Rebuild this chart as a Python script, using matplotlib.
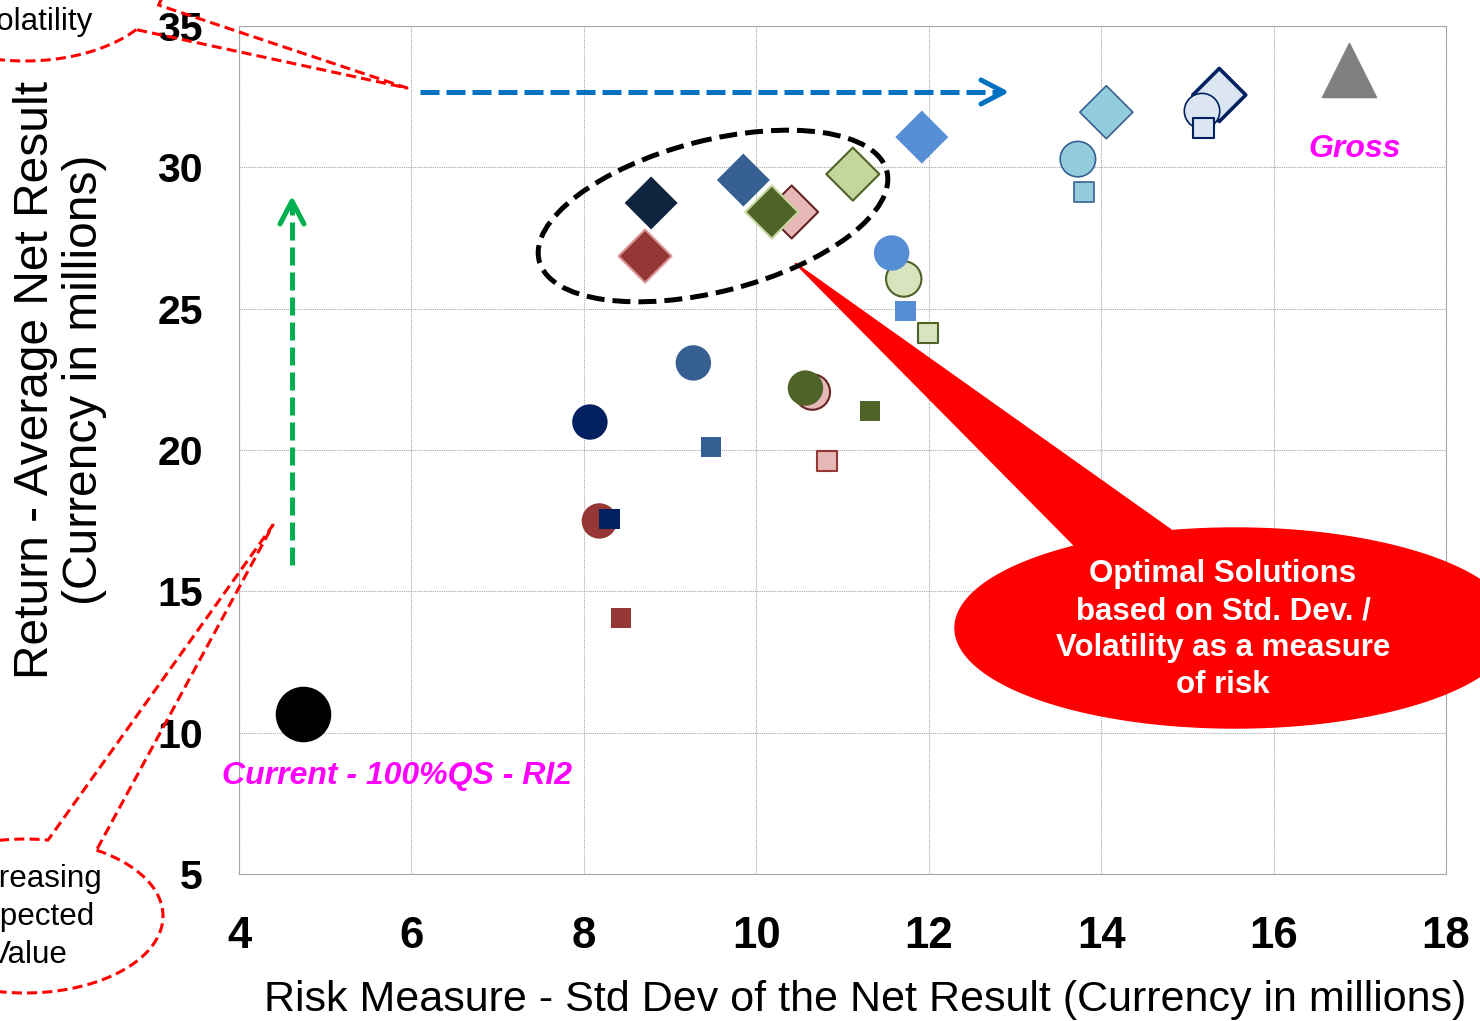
import numpy as np
import matplotlib
matplotlib.use('Agg')
import matplotlib.pyplot as plt
from matplotlib.patches import Ellipse, Polygon

plt.rcParams['font.family'] = ['Liberation Sans', 'DejaVu Sans']

# series order: navy, steel blue, dark red, pink, olive, light green, cornflower, light blue, pale blue
diamond_x = [8.78, 9.85, 8.71, 10.41, 10.18, 11.12, 11.92, 14.06, 15.37]
diamond_y = [28.74, 29.55, 26.86, 28.42, 28.42, 29.76, 31.07, 31.95, 32.56]
circle_x = [8.07, 9.27, 8.18, 10.65, 10.57, 11.71, 11.57, 13.73, 15.17]
circle_y = [20.99, 23.08, 17.49, 22.05, 22.19, 26.05, 26.97, 30.29, 31.99]
square_x = [8.30, 9.475, 8.43, 10.82, 11.32, 11.99, 11.73, 13.80, 15.19]
square_y = [17.56, 20.10, 14.06, 19.61, 21.38, 24.14, 24.92, 29.12, 31.39]

current_x, current_y = 4.74, 10.66
gross_x, gross_y = 16.88, 33.44

x_ticks = [4, 6, 8, 10, 12, 14, 16, 18]
y_ticks = [5, 10, 15, 20, 25, 30, 35]

diamond_face = ['#0F243E', '#376092', '#953735', '#E6B9B8', '#4F6228', '#C3D69B', '#558ED5', '#93CDDD', '#DCE6F2']
diamond_edge = ['#0F243E', '#376092', '#D99694', '#632523', '#C3D69B', '#4F6228', '#558ED5', '#376092', '#002060']
diamond_lw = [0, 0, 1.5, 1.5, 1.5, 1.5, 0, 1.2, 2.6]
circle_face = ['#002060', '#376092', '#953735', '#E6B9B8', '#4F6228', '#D7E4BD', '#558ED5', '#93CDDD', '#DCE6F2']
circle_edge = ['#002060', '#376092', '#953735', '#632523', '#4F6228', '#4F6228', '#558ED5', '#376092', '#002060']
circle_lw = [0, 0, 0, 1.5, 0, 1.5, 0, 1.2, 1.2]
square_face = ['#002060', '#376092', '#953735', '#E6B9B8', '#4F6228', '#D7E4BD', '#558ED5', '#93CDDD', '#DCE6F2']
square_edge = ['#002060', '#376092', '#953735', '#953735', '#4F6228', '#4F6228', '#558ED5', '#376092', '#002060']
square_lw = [0, 0, 0, 1.5, 0, 1.5, 0, 1.2, 1.5]

fig = plt.figure(figsize=(14.8, 10.21), dpi=100)
ax = fig.add_axes([0.16149, 0.14398, 0.81554, 0.83056])

ax.scatter(diamond_x, diamond_y, marker='D', s=27**2, c=diamond_face,
           edgecolors=diamond_edge, linewidths=diamond_lw, zorder=3)
ax.scatter(circle_x, circle_y, marker='o', s=25.5**2, c=circle_face,
           edgecolors=circle_edge, linewidths=circle_lw, zorder=4)
ax.scatter(square_x, square_y, marker='s', s=14.8**2, c=square_face,
           edgecolors=square_edge, linewidths=square_lw, zorder=5)
ax.scatter([current_x], [current_y], marker='o', s=39**2, c='black', zorder=5)
ax.scatter([gross_x], [gross_y], marker='^', s=39**2, c='#808080', zorder=5)

ax.text(5.827, 8.48, 'Current - 100%QS - RI2', color='#FF00FF', fontsize=23,
        fontweight='bold', fontstyle='italic', ha='center', va='center', clip_on=False)
ax.text(16.945, 30.65, 'Gross', color='#FF00FF', fontsize=23,
        fontweight='bold', fontstyle='italic', ha='center', va='center')

ax.set_xlim(4, 18)
ax.set_ylim(5, 35)
ax.set_xticks(x_ticks)
ax.set_yticks(y_ticks)
ax.tick_params(axis='both', length=0)
ax.tick_params(axis='x', labelsize=31.5, pad=30)
ax.tick_params(axis='y', labelsize=29.5, pad=26)
for lab in ax.get_xticklabels() + ax.get_yticklabels():
    lab.set_fontweight('bold')

ax.set_axisbelow(True)
ax.grid(True, color='#a6a6a6', linestyle=(0, (1, 1)), linewidth=0.8)
for sp in ax.spines.values():
    sp.set_color('#a6a6a6')
    sp.set_linestyle((0, (1, 1)))
    sp.set_linewidth(0.8)

ax.set_xlabel('Risk Measure - Std Dev of the Net Result (Currency in millions)',
              fontsize=31, va='center', ha='center')
ax.xaxis.set_label_coords(0.5186, -0.148)
ax.set_ylabel('Return - Average Net Result\n(Currency in millions)',
              fontsize=34.5, va='center', ha='center', linespacing=1.13)
ax.yaxis.set_label_coords(-0.1483, 0.5825)

# overlay in pixel units for the callouts and arrows
ov = fig.add_axes([0, 0, 1, 1], zorder=5)
ov.set_xlim(0, 1480)
ov.set_ylim(1021, 0)
ov.axis('off')
ov.patch.set_alpha(0)


def bubble(cx, cy, a, b, t0, t1, tip):
    t = np.radians(np.linspace(t0, t1, 300))
    xs = np.r_[cx + a * np.cos(t), tip[0], cx + a * np.cos(t[0])]
    ys = np.r_[cy + b * np.sin(t), tip[1], cy + b * np.sin(t[0])]
    return xs, ys


red_dash = (0, (3.3, 1.7))
xs, ys = bubble(25, -19, 140, 80, 37.4, 377.5, (407, 88))
ov.plot(xs, ys, color='#FF0000', lw=2.2, ls=red_dash)
ov.text(36, 3, 'Increasing\nVolatility', fontsize=22.6, ha='center', va='center',
        linespacing=1.35)

xs, ys = bubble(25, 916, 138, 77, 301.2, 639.6, (273, 525))
ov.plot(xs, ys, color='#FF0000', lw=2.2, ls=red_dash)
ov.text(29, 917, 'Increasing\nExpected\nValue', fontsize=22.6, ha='center', va='center',
        linespacing=1.35)

# optimal solutions callout
xs, ys = bubble(1235, 628, 280, 100, 257, 595.1, (795, 263))
ov.add_patch(Polygon(np.c_[xs, ys], closed=True, fc='#FF0000', ec='#FF0000', lw=1))
ov.text(1223, 629.5, 'Optimal Solutions\nbased on Std. Dev. /\nVolatility as a measure\nof risk',
        color='white', fontsize=22.5, fontweight='bold', ha='center', va='center',
        linespacing=1.29)

ov.add_patch(Ellipse((713, 216), 359, 151, angle=-14.5, fill=False, ec='black',
                     lw=3.6, ls=(0, (3.6, 1.6))))

# return / risk direction arrows
ov.plot([420, 1002], [92, 92], color='#0070C0', lw=3.6, ls=(0, (3.8, 1.4)))
ov.plot([981, 1004, 981], [80, 92, 104], color='#0070C0', lw=3.6,
        solid_capstyle='round', solid_joinstyle='round')
ov.plot([292, 292], [565, 203], color='#00B050', lw=3.6, ls=(0, (3.6, 1.4)))
ov.plot([280, 292, 304], [224, 201, 224], color='#00B050', lw=3.6,
        solid_capstyle='round', solid_joinstyle='round')

fig.savefig('out.png', dpi=100)
